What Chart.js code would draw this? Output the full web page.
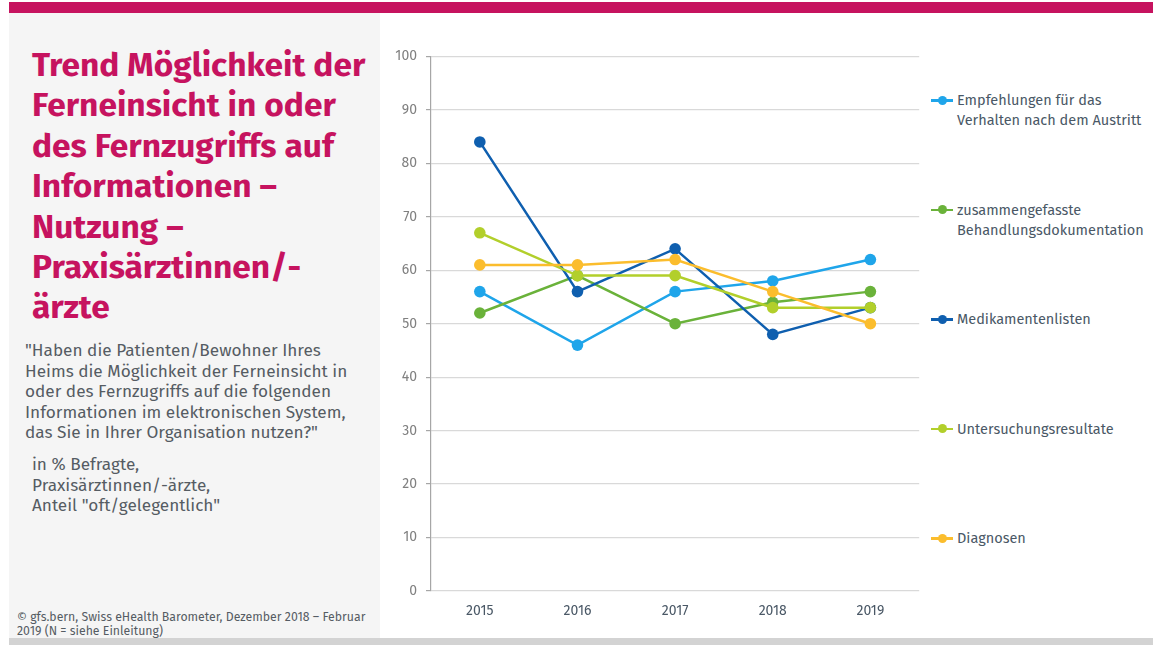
<!DOCTYPE html>
<html lang="de">
<head>
<meta charset="utf-8">
<script src="https://cdn.jsdelivr.net/npm/chart.js@4/dist/chart.umd.min.js"></script>
<style>
    html, body { margin: 0; padding: 0; background: #ffffff; }
    body { width: 1153px; height: 645px; position: relative; overflow: hidden;
           font-family: "Fira Sans", Lato, "Open Sans", sans-serif; }
    .top-bar { position: absolute; left: 9px; top: 2px; width: 1144px; height: 11px; background: #c6135f; }
    .bottom-bar { position: absolute; left: 9px; top: 638px; width: 1144px; height: 7px; background: #d3d3d3; }
    .side { position: absolute; left: 9px; top: 13px; width: 371px; height: 625px; background: #f5f5f5; }
    .title { position: absolute; left: 32px; top: 45px; width: 360px; margin: 0; white-space: nowrap;
             font-size: 33.5px; line-height: 40.4px; font-weight: bold; color: #c6135f; }
    .question { position: absolute; left: 25px; top: 341px; width: 360px; white-space: nowrap;
                font-size: 17.2px; line-height: 20.6px; color: #555c63; }
    .basis { position: absolute; left: 32px; top: 455px; width: 340px; white-space: nowrap;
             font-size: 17.2px; line-height: 20.6px; color: #555c63; }
    .source { position: absolute; left: 17px; top: 610px; width: 360px; white-space: nowrap;
              font-size: 12.3px; line-height: 13.5px; color: #555c63; }
    #chart-box { position: absolute; left: 380px; top: 39px; width: 545px; height: 592px; }
    .legend-item { position: absolute; left: 931px; width: 220px; font-size: 14.5px;
                   line-height: 20px; color: #4a5866; padding-left: 26px; box-sizing: border-box; }
    .legend-item .mark { position: absolute; left: 0; top: 9px; width: 22px; height: 2.5px; }
    .legend-item .dot { position: absolute; left: 6.5px; top: -3.5px; width: 9px; height: 9px; border-radius: 50%; }
</style>
</head>
<body>
<div class="top-bar"></div>
<div class="side"></div>
<div class="bottom-bar"></div>

<h1 class="title">Trend Möglichkeit der<br>Ferneinsicht in oder<br>des Fernzugriffs auf<br>Informationen –<br>Nutzung –<br>Praxisärztinnen/-<br>ärzte</h1>
<div class="question">"Haben die Patienten/Bewohner Ihres<br>Heims die Möglichkeit der Ferneinsicht in<br>oder des Fernzugriffs auf die folgenden<br>Informationen im elektronischen System,<br>das Sie in Ihrer Organisation nutzen?"</div>
<div class="basis">in % Befragte,<br>Praxisärztinnen/-ärzte,<br>Anteil "oft/gelegentlich"</div>
<div class="source">© gfs.bern, Swiss eHealth Barometer, Dezember 2018 – Februar<br>2019 (N = siehe Einleitung)</div>

<div id="chart-box"><canvas id="trend-chart"></canvas></div>
<div id="legend"></div>

<script>
// ==========================================================================
// Data
// ==========================================================================
const years = ['2015', '2016', '2017', '2018', '2019'];

const seriesNames = [
    'Empfehlungen für das Verhalten nach dem Austritt',
    'zusammengefasste Behandlungsdokumentation',
    'Medikamentenlisten',
    'Untersuchungsresultate',
    'Diagnosen'
];

const empfehlungen = [56, 46, 56, 58, 62];
const behandlungsdoku = [52, 59, 50, 54, 56];
const medikamentenlisten = [84, 56, 64, 48, 53];
const untersuchungsresultate = [67, 59, 59, 53, 53];
const diagnosen = [61, 61, 62, 56, 50];

const yTicks = [0, 10, 20, 30, 40, 50, 60, 70, 80, 90, 100];

const seriesColors = ['#1fa5ea', '#6ab23a', '#0f5faf', '#b2cf2b', '#fbbd2d'];

// ==========================================================================
// Chart
// ==========================================================================
const allSeries = [empfehlungen, behandlungsdoku, medikamentenlisten, untersuchungsresultate, diagnosen];
const tickFont = '"Fira Sans", Lato, "Open Sans", sans-serif';

const datasets = allSeries.map((values, i) => ({
    label: seriesNames[i],
    data: values,
    borderColor: seriesColors[i],
    backgroundColor: seriesColors[i],
    borderWidth: 2.5,
    pointRadius: 5.8,
    pointHoverRadius: 5.8,
    pointBorderWidth: 0,
    tension: 0,
    order: allSeries.length - i   // later series on top, like the original
}));

const ctx = document.getElementById('trend-chart').getContext('2d');
new Chart(ctx, {
    type: 'line',
    data: { labels: years, datasets: datasets },
    options: {
        responsive: true,
        maintainAspectRatio: false,
        animation: false,
        layout: { padding: { top: 3, right: 2, left: 0, bottom: 0 } },
        plugins: { legend: { display: false }, tooltip: { enabled: false } },
        scales: {
            x: {
                offset: true,
                grid: { display: false, drawTicks: false },
                border: { display: false },
                ticks: { color: '#4a5866', font: { size: 14, family: tickFont }, padding: 12 },
                afterFit: scale => { scale.height = 40; }
            },
            y: {
                min: 0,
                max: 100,
                afterBuildTicks: scale => { scale.ticks = yTicks.map(v => ({ value: v })); },
                grid: { color: '#d9d9d9', lineWidth: 1.2, tickLength: 5, tickColor: '#a6a6a6' },
                border: { display: true, color: '#a6a6a6', width: 1.2 },
                ticks: { color: '#808080', font: { size: 14, family: tickFont }, padding: 9 },
                afterFit: scale => { scale.width = 51; }
            }
        }
    }
});

// ==========================================================================
// Legend (right column, one entry per series)
// ==========================================================================
const legendEl = document.getElementById('legend');
seriesNames.forEach((name, i) => {
    const item = document.createElement('div');
    item.className = 'legend-item';
    item.style.top = (90 + i * 109.5) + 'px';
    item.style.width = i < 2 ? '212px' : '222px';
    item.innerHTML = `<span class="mark" style="background:${seriesColors[i]}"><span class="dot" style="background:${seriesColors[i]}"></span></span>${name}`;
    legendEl.appendChild(item);
});
</script>
</body>
</html>
